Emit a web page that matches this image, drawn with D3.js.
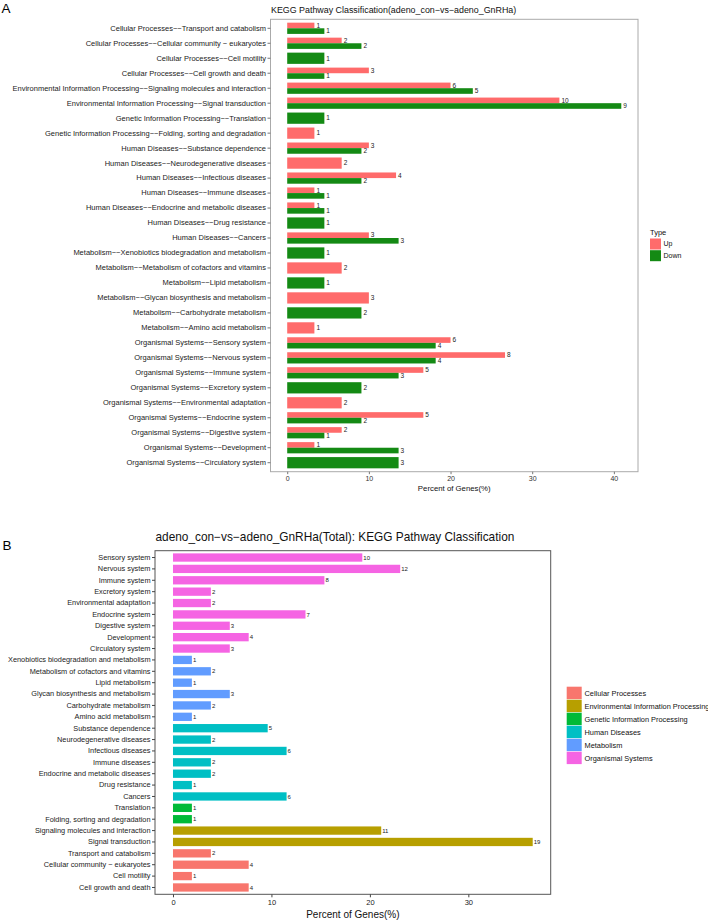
<!DOCTYPE html>
<html>
<head>
<meta charset="utf-8">
<script src="https://cdn.jsdelivr.net/npm/d3@7/dist/d3.min.js"></script>
<style>
  body { margin: 0; background: #fff; }
  text { font-family: "Liberation Sans", Arial, sans-serif; }
</style>
</head>
<body>
<svg id="chart"></svg>
<script>
// ---- panel A : up / down per pathway (top to bottom) ----
const classA = [
  "Cellular Processes", "Cellular Processes", "Cellular Processes", "Cellular Processes",
  "Environmental Information Processing", "Environmental Information Processing",
  "Genetic Information Processing", "Genetic Information Processing",
  "Human Diseases", "Human Diseases", "Human Diseases", "Human Diseases",
  "Human Diseases", "Human Diseases", "Human Diseases",
  "Metabolism", "Metabolism", "Metabolism", "Metabolism", "Metabolism", "Metabolism",
  "Organismal Systems", "Organismal Systems", "Organismal Systems", "Organismal Systems",
  "Organismal Systems", "Organismal Systems", "Organismal Systems", "Organismal Systems",
  "Organismal Systems"
];
const pathA = [
  "Transport and catabolism", "Cellular community - eukaryotes", "Cell motility", "Cell growth and death",
  "Signaling molecules and interaction", "Signal transduction",
  "Translation", "Folding, sorting and degradation",
  "Substance dependence", "Neurodegenerative diseases", "Infectious diseases", "Immune diseases",
  "Endocrine and metabolic diseases", "Drug resistance", "Cancers",
  "Xenobiotics biodegradation and metabolism", "Metabolism of cofactors and vitamins", "Lipid metabolism",
  "Glycan biosynthesis and metabolism", "Carbohydrate metabolism", "Amino acid metabolism",
  "Sensory system", "Nervous system", "Immune system", "Excretory system",
  "Environmental adaptation", "Endocrine system", "Digestive system", "Development",
  "Circulatory system"
];
const upCount   = [1, 2, 0, 3, 6, 10, 0, 1, 3, 2, 4, 1, 1, 0, 3, 0, 2, 0, 3, 0, 1, 6, 8, 5, 0, 2, 5, 2, 1, 0];
const upPct     = [3.33, 6.67, 0, 10, 20, 33.33, 0, 3.33, 10, 6.67, 13.33, 3.33, 3.33, 0, 10,
                   0, 6.67, 0, 10, 0, 3.33, 20, 26.67, 16.67, 0, 6.67, 16.67, 6.67, 3.33, 0];
const downCount = [1, 2, 1, 1, 5, 9, 1, 0, 2, 0, 2, 1, 1, 1, 3, 1, 0, 1, 0, 2, 0, 4, 4, 3, 2, 0, 2, 1, 3, 3];
const downPct   = [4.55, 9.09, 4.55, 4.55, 22.73, 40.91, 4.55, 0, 9.09, 0, 9.09, 4.55, 4.55, 4.55, 13.64,
                   4.55, 0, 4.55, 0, 9.09, 0, 18.18, 18.18, 13.64, 9.09, 0, 9.09, 4.55, 13.64, 13.64];
const typeNames = ["Up", "Down"];
const typeColors = ["#FF6B6B", "#148A14"];

// ---- panel B : total per pathway (top to bottom) ----
const pathB = [
  "Sensory system", "Nervous system", "Immune system", "Excretory system", "Environmental adaptation",
  "Endocrine system", "Digestive system", "Development", "Circulatory system",
  "Xenobiotics biodegradation and metabolism", "Metabolism of cofactors and vitamins", "Lipid metabolism",
  "Glycan biosynthesis and metabolism", "Carbohydrate metabolism", "Amino acid metabolism",
  "Substance dependence", "Neurodegenerative diseases", "Infectious diseases", "Immune diseases",
  "Endocrine and metabolic diseases", "Drug resistance", "Cancers",
  "Translation", "Folding, sorting and degradation",
  "Signaling molecules and interaction", "Signal transduction",
  "Transport and catabolism", "Cellular community - eukaryotes", "Cell motility", "Cell growth and death"
];
const classB = [
  "Organismal Systems", "Organismal Systems", "Organismal Systems", "Organismal Systems", "Organismal Systems",
  "Organismal Systems", "Organismal Systems", "Organismal Systems", "Organismal Systems",
  "Metabolism", "Metabolism", "Metabolism", "Metabolism", "Metabolism", "Metabolism",
  "Human Diseases", "Human Diseases", "Human Diseases", "Human Diseases", "Human Diseases",
  "Human Diseases", "Human Diseases",
  "Genetic Information Processing", "Genetic Information Processing",
  "Environmental Information Processing", "Environmental Information Processing",
  "Cellular Processes", "Cellular Processes", "Cellular Processes", "Cellular Processes"
];
const totalCount = [10, 12, 8, 2, 2, 7, 3, 4, 3, 1, 2, 1, 3, 2, 1, 5, 2, 6, 2, 2, 1, 6, 1, 1, 11, 19, 2, 4, 1, 4];
const totalPct   = [19.23, 23.08, 15.38, 3.85, 3.85, 13.46, 5.77, 7.69, 5.77, 1.92, 3.85, 1.92, 5.77, 3.85, 1.92,
                    9.62, 3.85, 11.54, 3.85, 3.85, 1.92, 11.54, 1.92, 1.92, 21.15, 36.54, 3.85, 7.69, 1.92, 7.69];
const classNames = ["Cellular Processes", "Environmental Information Processing", "Genetic Information Processing",
                    "Human Diseases", "Metabolism", "Organismal Systems"];
const classColors = ["#F8766D", "#B79F00", "#00BA38", "#00BFC4", "#619CFF", "#F564E3"];

const W = 708, H = 921;
const svg = d3.select("#chart").attr("width", W).attr("height", H);
svg.append("rect").attr("width", W).attr("height", H).attr("fill", "#fff");

// panel letters
svg.append("text").attr("x", 1.5).attr("y", 12.5).attr("font-size", 13.5).text("A");
svg.append("text").attr("x", 2.5).attr("y", 550).attr("font-size", 13.5).text("B");

// ================= panel A =================
const A = { left: 270.5, right: 638, top: 19.3, bottom: 471.7 };
const labelsA = pathA.map((p, i) => classA[i] + "\u2212\u2212" + p.replace(" - ", " \u2212 "));
const maxA = d3.max(upPct.concat(downPct));
const xA = d3.scaleLinear().domain([-0.05 * maxA, maxA * 1.05]).range([A.left, A.right]);
const yA = d3.scaleBand().domain(labelsA).range([A.top, A.bottom])
  .paddingInner(0.25).paddingOuter(0.225);

const gA = svg.append("g");
svg.append("text").attr("x", A.left + 0.5).attr("y", 13.3).attr("font-size", 8.9)
  .attr("fill", "#111").text("KEGG Pathway Classification(adeno_con\u2212vs\u2212adeno_GnRHa)");

// bars
const rowsA = labelsA.map((lab, i) => ({ lab, vals: [upPct[i], downPct[i]], cnt: [upCount[i], downCount[i]] }));
rowsA.forEach(r => {
  const present = [0, 1].filter(k => r.cnt[k] > 0);
  const bw = yA.bandwidth();
  const h = bw / present.length;
  present.forEach((k, j) => {
    const y0 = yA(r.lab) + j * h;
    gA.append("rect")
      .attr("x", xA(0)).attr("y", y0)
      .attr("width", xA(r.vals[k]) - xA(0)).attr("height", h)
      .attr("fill", typeColors[k]);
    gA.append("text")
      .attr("x", xA(r.vals[k]) + 2).attr("y", y0 + h / 2)
      .attr("dy", "0.35em").attr("font-size", 6.5).attr("fill", "#222")
      .text(r.cnt[k]);
  });
});

// frame + axes
gA.append("rect").attr("x", A.left).attr("y", A.top)
  .attr("width", A.right - A.left).attr("height", A.bottom - A.top)
  .attr("fill", "none").attr("stroke", "#aaa").attr("stroke-width", 1);

const yAxA = gA.append("g").attr("transform", `translate(${A.left},0)`)
  .call(d3.axisLeft(yA).tickSize(3).tickPadding(1.5));
yAxA.select(".domain").remove();
yAxA.selectAll("line").attr("stroke", "#777");
yAxA.selectAll("text").attr("font-size", 7.5).attr("fill", "#222")
  .attr("font-family", "Liberation Sans, Arial, sans-serif");

const xAxA = gA.append("g").attr("transform", `translate(0,${A.bottom})`)
  .call(d3.axisBottom(xA).tickValues([0, 10, 20, 30, 40]).tickSize(2.5).tickPadding(1.5));
xAxA.select(".domain").remove();
xAxA.selectAll("line").attr("stroke", "#777");
xAxA.selectAll("text").attr("font-size", 7).attr("fill", "#333")
  .attr("font-family", "Liberation Sans, Arial, sans-serif");

gA.append("text").attr("x", (A.left + A.right) / 2).attr("y", 490.5)
  .attr("text-anchor", "middle").attr("font-size", 7.8).attr("fill", "#111")
  .text("Percent of Genes(%)");

// legend A
svg.append("text").attr("x", 650).attr("y", 235).attr("font-size", 7.5).attr("fill", "#111").text("Type");
typeNames.forEach((t, i) => {
  svg.append("rect").attr("x", 650).attr("y", 238.5 + i * 11.7).attr("width", 11).attr("height", 11)
    .attr("fill", typeColors[i]);
  svg.append("text").attr("x", 663.5).attr("y", 244 + i * 11.7).attr("dy", "0.35em")
    .attr("font-size", 7).attr("fill", "#111").text(t);
});

// ================= panel B =================
const B = { left: 155, right: 550.7, top: 550.7, bottom: 894.3 };
const labelsB = pathB.map(p => p.replace(" - ", " \u2212 "));
const maxB = d3.max(totalPct);
const xB = d3.scaleLinear().domain([-0.05 * maxB, maxB * 1.05]).range([B.left, B.right]);
const yB = d3.scaleBand().domain(labelsB).range([B.top, B.bottom])
  .paddingInner(0.27).paddingOuter(0.235);
const colorB = d3.scaleOrdinal().domain(classNames).range(classColors);

const gB = svg.append("g");
svg.append("text").attr("x", 155.5).attr("y", 541.3).attr("font-size", 11.85).attr("fill", "#111")
  .text("adeno_con\u2212vs\u2212adeno_GnRHa(Total): KEGG Pathway Classification");

gB.selectAll("rect.bar").data(labelsB).enter().append("rect")
  .attr("class", "bar")
  .attr("x", xB(0)).attr("y", d => yB(d))
  .attr("width", (d, i) => xB(totalPct[i]) - xB(0)).attr("height", yB.bandwidth())
  .attr("fill", (d, i) => colorB(classB[i]));

gB.selectAll("text.val").data(labelsB).enter().append("text")
  .attr("class", "val")
  .attr("x", (d, i) => xB(totalPct[i]) + 1).attr("y", d => yB(d) + yB.bandwidth() / 2)
  .attr("dy", "0.35em").attr("font-size", 6).attr("fill", "#222")
  .text((d, i) => totalCount[i]);

gB.append("rect").attr("x", B.left).attr("y", B.top)
  .attr("width", B.right - B.left).attr("height", B.bottom - B.top)
  .attr("fill", "none").attr("stroke", "#555").attr("stroke-width", 1);

const yAxB = gB.append("g").attr("transform", `translate(${B.left},0)`)
  .call(d3.axisLeft(yB).tickSize(3).tickPadding(1.5));
yAxB.select(".domain").remove();
yAxB.selectAll("line").attr("stroke", "#444");
yAxB.selectAll("text").attr("font-size", 7.35).attr("fill", "#222")
  .attr("font-family", "Liberation Sans, Arial, sans-serif");

const xAxB = gB.append("g").attr("transform", `translate(0,${B.bottom})`)
  .call(d3.axisBottom(xB).tickValues([0, 10, 20, 30]).tickSize(3).tickPadding(2));
xAxB.select(".domain").remove();
xAxB.selectAll("line").attr("stroke", "#444");
xAxB.selectAll("text").attr("font-size", 7.5).attr("fill", "#222")
  .attr("font-family", "Liberation Sans, Arial, sans-serif");

gB.append("text").attr("x", (B.left + B.right) / 2).attr("y", 917.5)
  .attr("text-anchor", "middle").attr("font-size", 10).attr("fill", "#111")
  .text("Percent of Genes(%)");

// legend B
classNames.forEach((c, i) => {
  svg.append("rect").attr("x", 566.7).attr("y", 686.7 + i * 13).attr("width", 15).attr("height", 12.4)
    .attr("fill", classColors[i]);
  svg.append("text").attr("x", 584.5).attr("y", 693 + i * 13).attr("dy", "0.35em")
    .attr("font-size", 7.4).attr("fill", "#111").text(c);
});
</script>
</body>
</html>
